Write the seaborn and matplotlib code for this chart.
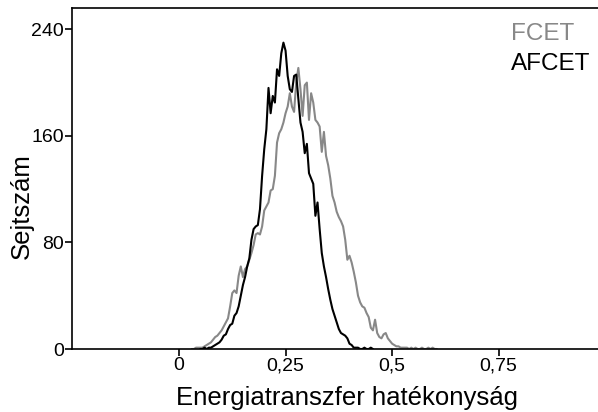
import matplotlib
matplotlib.use("Agg")
import matplotlib.pyplot as plt
import numpy as np
import pandas as pd
import seaborn as sns

sns.set_theme(style="ticks")
plt.rcParams["font.family"] = ["Liberation Sans", "DejaVu Sans"]
plt.rcParams.update({
    "text.color": "black",
    "axes.labelcolor": "black",
    "xtick.color": "black",
    "ytick.color": "black",
})

series_names = ["FCET", "AFCET"]
series_colors = ["#888888", "#000000"]

# bin centres, 0.005 wide
fcet_x = np.round(np.arange(0.030, 0.6101, 0.005), 3)
fcet_counts = [
    0, 0, 1, 1, 1, 1, 2, 3, 4, 5, 7, 9, 10, 12, 14, 17, 20, 23, 32, 42,
    44, 42, 55, 62, 54, 60, 62, 67, 72, 78, 86, 87, 86, 92, 104, 107, 110, 119, 120, 130,
    155, 162, 165, 170, 177, 182, 192, 182, 178, 200, 211, 195, 175, 198, 200, 172, 192, 185, 172, 170,
    167, 148, 163, 145, 138, 128, 115, 110, 103, 99, 96, 92, 82, 67, 70, 65, 58, 50, 40, 35,
    32, 31, 27, 24, 16, 14, 22, 12, 9, 8, 11, 12, 8, 6, 4, 3, 2, 2, 1, 1,
    1, 1, 0, 1, 0, 1, 0, 0, 1, 0, 0, 1, 0, 1, 0, 0,
]

afcet_x = np.round(np.arange(0.050, 0.4551, 0.005), 3)
afcet_counts = [
    0, 0, 1, 0, 1, 1, 2, 3, 4, 5, 7, 10, 11, 15, 18, 19, 25, 27, 32, 40,
    48, 54, 62, 68, 82, 90, 92, 93, 105, 130, 150, 165, 196, 177, 190, 185, 210, 205, 222, 230,
    224, 205, 195, 193, 205, 206, 188, 170, 163, 147, 154, 132, 128, 124, 100, 110, 90, 72, 62, 54,
    45, 37, 30, 25, 20, 15, 12, 11, 10, 8, 4, 3, 1, 1, 1, 0, 0, 1, 0, 0,
    1, 0,
]

xticks = [0, 0.25, 0.5, 0.75]
xtick_labels = ["0", "0,25", "0,5", "0,75"]
yticks = [0, 80, 160, 240]

n = min(len(fcet_x), len(fcet_counts))
m = min(len(afcet_x), len(afcet_counts))
df = pd.concat([
    pd.DataFrame({"E": fcet_x[:n], "count": fcet_counts[:n], "minta": "FCET"}),
    pd.DataFrame({"E": afcet_x[:m], "count": afcet_counts[:m], "minta": "AFCET"}),
])

fig = plt.figure(figsize=(5.98, 4.12), dpi=100)
ax = fig.add_axes([0.1204, 0.1529, 0.8796, 0.8277])

sns.lineplot(
    data=df, x="E", y="count", hue="minta", hue_order=series_names,
    palette=dict(zip(series_names, series_colors)), linewidth=1.5,
    legend=False, ax=ax,
)

ax.set_xlim(-0.251, 0.983)
ax.set_ylim(0, 256)
ax.set_xticks(xticks)
ax.set_xticklabels(xtick_labels)
ax.set_yticks(yticks)
ax.tick_params(axis="both", labelsize=14, length=5, width=1.2, pad=1, color="black")

for side in ["left", "bottom", "top"]:
    ax.spines[side].set_linewidth(1.2)
    ax.spines[side].set_color("black")
ax.spines["right"].set_visible(False)

ax.set_xlabel("Energiatranszfer hatékonyság", fontsize=18.5)
ax.set_ylabel("Sejtszám", fontsize=18.5)
ax.xaxis.set_label_coords(0.523, -0.108)
ax.yaxis.set_label_coords(-0.072, 0.42)

for i, (name, col) in enumerate(zip(series_names, series_colors)):
    ax.text(0.835, 0.925 - i * 0.088, name, color=col, fontsize=17.5,
            transform=ax.transAxes, ha="left", va="center")

fig.savefig("out.png", dpi=100)
